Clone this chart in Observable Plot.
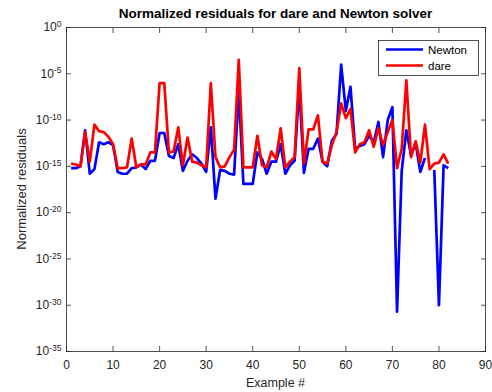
<!DOCTYPE html>
<html><head><meta charset="utf-8">
<script src="https://cdn.jsdelivr.net/npm/d3@7"></script>
<script src="https://cdn.jsdelivr.net/npm/@observablehq/plot@0.6"></script>
<style>
html,body{margin:0;padding:0;background:#fff}
svg{display:block}
</style>
</head><body><div id="chart"></div>
<script>
const exampleIds = [1,2,3,4,5,6,7,8,9,10,11,12,13,14,15,16,17,18,19,20,21,22,23,24,25,26,27,28,29,30,31,32,33,34,35,36,37,38,39,40,41,42,43,44,45,46,47,48,49,50,51,52,53,54,55,56,57,58,59,60,61,62,63,64,65,66,67,68,69,70,71,72,73,74,75,76,77,78,79,80,81,82];

const newtonResiduals = [6.3e-16,6.3e-16,1e-15,7.9e-12,1.6e-16,5.0e-16,4.0e-13,2.5e-13,4.0e-13,2.0e-13,
  2.5e-16,1.6e-16,1.6e-16,6.3e-16,7.9e-16,1.6e-15,5.0e-16,4.0e-15,4.0e-15,4.0e-12,
  4.0e-12,1.3e-14,7.9e-15,2.5e-13,3.2e-16,4.0e-15,2.0e-14,7.9e-15,2.0e-15,2.5e-16,
  1.6e-11,3.2e-19,4.0e-16,3.2e-16,1.6e-16,1.3e-16,1.6e-7,1.3e-17,1.3e-17,1.3e-17,
  3.2e-14,6.3e-15,1.6e-16,3.2e-15,3.2e-15,2.5e-13,1.6e-16,1.3e-15,4.0e-15,4.0e-7,
  2.0e-16,7.9e-14,7.9e-14,1e-12,3.2e-15,1e-15,6.3e-13,3.2e-12,1e-4,1e-9,
  4.0e-7,7.9e-14,1.6e-13,2.5e-13,2.0e-12,4.0e-13,6.3e-11,1e-14,1e-10,2.5e-9,
  2.0e-31,3.2e-16,7.9e-12,1.6e-14,3.2e-13,2.5e-16,7.9e-15,null,4.0e-16,1e-30,
  1.3e-15,6.3e-16];

const dareResiduals = [2.0e-15,1.6e-15,1e-15,5.0e-12,3.2e-15,3.2e-11,6.3e-12,5.0e-12,1.6e-12,2.5e-13,
  6.3e-16,6.3e-16,7.9e-16,1e-12,7.9e-16,1.6e-15,1.6e-15,3.2e-14,3.2e-14,1e-6,
  1e-6,3.2e-14,4.0e-14,1.6e-11,1.3e-15,1.3e-12,3.2e-15,2.5e-15,1.3e-15,7.9e-16,
  1e-6,1e-14,7.9e-16,1e-15,1e-14,6.3e-14,3.2e-4,7.9e-16,7.9e-16,7.9e-16,
  2.0e-12,1.3e-15,7.9e-16,4.0e-14,6.3e-15,1.3e-11,7.9e-16,3.2e-15,1e-14,4.0e-5,
  2.0e-15,1e-11,1e-11,3.2e-10,3.2e-15,2.0e-15,2.0e-13,5.0e-12,6.3e-9,1.6e-10,
  1.6e-9,3.2e-14,2.5e-13,4.0e-13,7.9e-12,1.3e-13,1.3e-11,2.0e-13,5.0e-12,1e-10,
  6.3e-16,7.9e-14,2.0e-6,1e-14,5.0e-13,2.5e-15,3.2e-11,5.0e-16,2.0e-15,2.5e-15,
  2.0e-14,2.0e-15];

const seriesNames = ["Newton", "dare"];
const seriesColors = ["#0000ff", "#ff0000"];
const xTicks = [0,10,20,30,40,50,60,70,80,90];
const yTicks = [1e-35,1e-30,1e-25,1e-20,1e-15,1e-10,1e-5,1];
const titleText = "Normalized residuals for dare and Newton solver";
const xLabel = "Example #";
const yLabel = "Normalized residuals";

const newtonRows = exampleIds.map((x, i) => ({x, y: newtonResiduals[i]}));
const dareRows = exampleIds.map((x, i) => ({x, y: dareResiduals[i]}));

const axisColor = "#262626";
const chart = Plot.plot({
  width: 492, height: 392,
  marginLeft: 66, marginRight: 7, marginTop: 27, marginBottom: 41,
  style: {fontFamily: "'Liberation Sans', Arial, Helvetica, sans-serif", fontSize: "12px", color: axisColor, background: "#fff"},
  x: {domain: [0, 90]},
  y: {type: "log", domain: [1e-35, 1]},
  marks: [
    Plot.frame({stroke: axisColor, strokeWidth: 0.8}),
    Plot.axisX({ticks: xTicks, tickSize: -5, tickPadding: 14, tickFormat: d => String(d), label: null, strokeWidth: 0.8}),
    Plot.axisX({anchor: "top", ticks: xTicks, tickSize: -5, tickFormat: () => "", label: null, strokeWidth: 0.8}),
    Plot.axisY({ticks: yTicks, tickSize: -5, tickPadding: 10, tickFormat: d => String(Math.round(Math.log10(d))), label: null, strokeWidth: 0.8}),
    Plot.axisY({anchor: "right", ticks: yTicks, tickSize: -5, tickFormat: () => "", label: null, strokeWidth: 0.8}),
    Plot.line(newtonRows, {x: "x", y: "y", stroke: seriesColors[0], strokeWidth: 2.7, strokeLinejoin: "round", strokeLinecap: "butt"}),
    Plot.line(dareRows, {x: "x", y: "y", stroke: seriesColors[1], strokeWidth: 2.7, strokeLinejoin: "round", strokeLinecap: "butt"})
  ]
});

// drop empty tick labels, superscript exponents on the y tick labels
d3.select(chart).selectAll("text").each(function() {
  if (this.textContent === "") this.remove();
});
d3.select(chart).selectAll('g[aria-label="y-axis tick label"] text').each(function() {
  const exp = this.textContent;
  const t = d3.select(this);
  t.text("10");
  t.append("tspan").attr("dy", "-0.5em").attr("font-size", "8.5px").text(exp);
});

const svg = d3.select(chart);
svg.append("text").attr("x", 275.5).attr("y", 18).attr("text-anchor", "middle")
  .attr("font-weight", "bold").attr("font-size", "13.5px").attr("fill", "#000").text(titleText);
svg.append("text").attr("x", 275.5).attr("y", 387).attr("text-anchor", "middle")
  .attr("font-size", "12.5px").attr("fill", axisColor).text(xLabel);
svg.append("text").attr("transform", "translate(26,189) rotate(-90)").attr("text-anchor", "middle")
  .attr("font-size", "13px").attr("fill", axisColor).text(yLabel);

// legend
const lg = svg.append("g");
lg.append("rect").attr("x", 378.5).attr("y", 40.5).attr("width", 100).attr("height", 35)
  .attr("fill", "#fff").attr("stroke", axisColor).attr("stroke-width", 0.8);
seriesNames.forEach((name, i) => {
  const yy = 49.5 + i * 16;
  lg.append("line").attr("x1", 386).attr("x2", 423).attr("y1", yy).attr("y2", yy)
    .attr("stroke", seriesColors[i]).attr("stroke-width", 2.7);
  lg.append("text").attr("x", 428).attr("y", yy + 4).attr("text-anchor", "start")
    .attr("font-size", "11.5px").attr("fill", "#000").text(name);
});

document.getElementById("chart").appendChild(chart);
</script>
</body></html>
